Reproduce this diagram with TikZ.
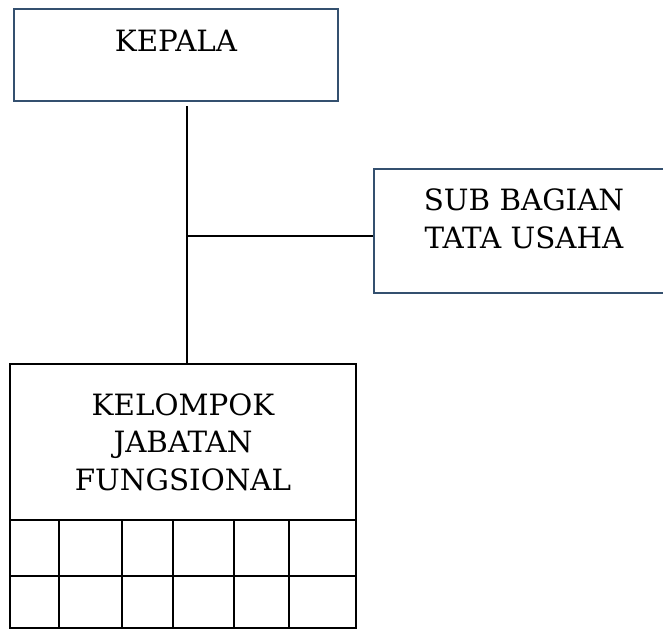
\documentclass[tikz,border=0pt]{standalone}
\usepackage{fontspec}
\setmainfont{DejaVu Serif}
\usetikzlibrary{positioning}
\definecolor{boxblue}{HTML}{34506F}

\begin{document}
\begin{tikzpicture}[x=0.75pt,y=-0.75pt,
    unit/.style={draw=boxblue, line width=2.1pt, align=center, inner sep=0pt,
        font=\fontsize{22}{28.5}\selectfont},
    group/.style={draw=black, line width=0.9pt, align=center, inner sep=0pt,
        font=\fontsize{22}{28}\selectfont},
    cell/.style={draw=black, line width=0.9pt},
    link/.style={draw=black, line width=1.5pt}]
    \clip (0,0) rectangle (663,634);
    \node[unit, minimum width=243pt, minimum height=69pt, text depth=21pt] (kepala) at (176,55) {KEPALA};
    \node[unit, minimum width=225pt, minimum height=93pt, text depth=18pt] (sub) at (524,231) {SUB BAGIAN\\TATA USAHA};
    \node[group, minimum width=259.5pt, minimum height=117pt] (kelompok) at (183,442) {KELOMPOK\\JABATAN\\FUNGSIONAL};
    % cells below the group
    \foreach \xa/\xb in {10/59,59/122,122/173,173/234,234/289,289/356}
        \foreach \ya/\yb in {520/576,576/628}
            \draw[cell] (\xa,\ya) rectangle (\xb,\yb);
    \coordinate (branch) at (187,236);
    \draw[link] (kepala.south -| branch) ++(0,4) -- (branch) -- (kelompok.north -| branch);
    \draw[link] (branch) -- (branch -| sub.west);
\end{tikzpicture}
\end{document}
